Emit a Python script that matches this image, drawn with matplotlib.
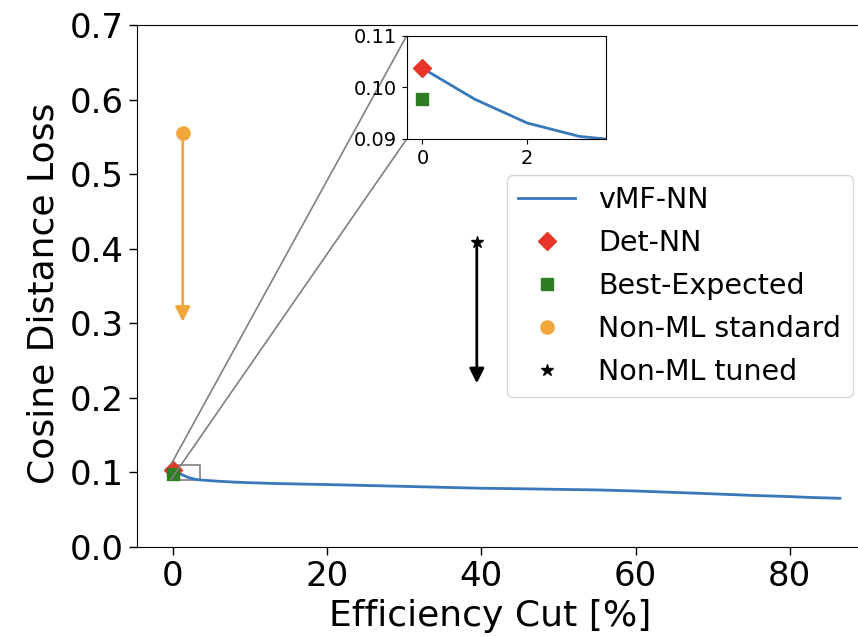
import matplotlib
matplotlib.use("Agg")
import matplotlib.pyplot as plt
from mpl_toolkits.axes_grid1.inset_locator import mark_inset

# ---- data ----
eff_cut = [0, 1, 2, 3, 4, 5, 6, 8, 10, 13, 17, 20, 25, 30, 35, 40, 45, 50, 55,
           60, 65, 70, 75, 80, 83, 86.5]
vmf_loss = [0.1037, 0.0977, 0.0931, 0.0905, 0.0895, 0.0888, 0.0881, 0.0870,
            0.0862, 0.0852, 0.0843, 0.0837, 0.0825, 0.0813, 0.0800, 0.0788,
            0.0781, 0.0773, 0.0765, 0.0751, 0.0732, 0.0713, 0.0692, 0.0676,
            0.0663, 0.0653]
det_x, det_y = [0], [0.1037]
best_x, best_y = [0], [0.0978]
std_x, std_y, std_y_end = 1.26, 0.5556, 0.302
tuned_x, tuned_y, tuned_y_end = 39.4, 0.4094, 0.2195

xticks = [0, 20, 40, 60, 80]
yticks = [0.0, 0.1, 0.2, 0.3, 0.4, 0.5, 0.6, 0.7]
inset_xticks = [0, 2]
inset_yticks = [0.09, 0.10, 0.11]

c_line = "#3877b9"
c_det = "#e8352a"
c_best = "#2e7d22"
c_std = "#f0a63a"
c_tuned = "black"

fig = plt.figure(figsize=(8.58, 6.37), dpi=100)
ax = fig.add_axes([0.1597, 0.1413, 0.9226, 0.8195])

ax.plot(eff_cut, vmf_loss, color=c_line, lw=2, label="vMF-NN", zorder=2)
ax.plot(det_x, det_y, ls="none", marker="D", ms=9.5, color=c_det, label="Det-NN", zorder=3)
ax.plot(best_x, best_y, ls="none", marker="s", ms=9, color=c_best, label="Best-Expected", zorder=3)
ax.plot([std_x], [std_y], ls="none", marker="o", ms=9.5, color=c_std, label="Non-ML standard", zorder=3)
ax.plot([tuned_x], [tuned_y], ls="none", marker="*", ms=9, color=c_tuned, label="Non-ML tuned", zorder=3)

ax.annotate("", xy=(std_x, std_y_end), xytext=(std_x, std_y),
            arrowprops=dict(arrowstyle="-|>", color=c_std, lw=2,
                            mutation_scale=22, shrinkA=0, shrinkB=0))
ax.annotate("", xy=(tuned_x, tuned_y_end), xytext=(tuned_x, tuned_y),
            arrowprops=dict(arrowstyle="-|>", color=c_tuned, lw=2,
                            mutation_scale=22, shrinkA=0, shrinkB=0))

ax.set_xlim(-4.67, 98.0)
ax.set_ylim(0, 0.7)
ax.set_xticks(xticks)
ax.set_yticks(yticks)
ax.set_yticklabels([f"{v:.1f}" for v in yticks])
ax.tick_params(labelsize=24.5, length=6, width=1)
ax.set_xlabel("Efficiency Cut [%]", fontsize=26)
ax.set_ylabel("Cosine Distance Loss", fontsize=26)
ax.xaxis.set_label_coords(0.446, -0.1)
ax.yaxis.set_label_coords(-0.097, 0.485)

ax.legend(loc="upper left", bbox_to_anchor=(0.591, 0.7253),
          bbox_transform=fig.transFigure, borderaxespad=0, fontsize=20.5,
          labelspacing=0.52)

# inset
axins = fig.add_axes([0.474, 0.7818, 0.2319, 0.1622])
axins.plot(eff_cut, vmf_loss, color=c_line, lw=2)
axins.plot(det_x, det_y, ls="none", marker="D", ms=9.5, color=c_det)
axins.plot(best_x, best_y, ls="none", marker="s", ms=9, color=c_best)
axins.set_xlim(-0.3, 3.5)
axins.set_ylim(0.09, 0.11)
axins.set_xticks(inset_xticks)
axins.set_yticks(inset_yticks)
axins.set_yticklabels([f"{v:.2f}" for v in inset_yticks])
axins.tick_params(labelsize=14)

mark_inset(ax, axins, loc1=2, loc2=3, fc="none", ec="0.5", lw=1.2)

fig.savefig("out.png", dpi=100)
